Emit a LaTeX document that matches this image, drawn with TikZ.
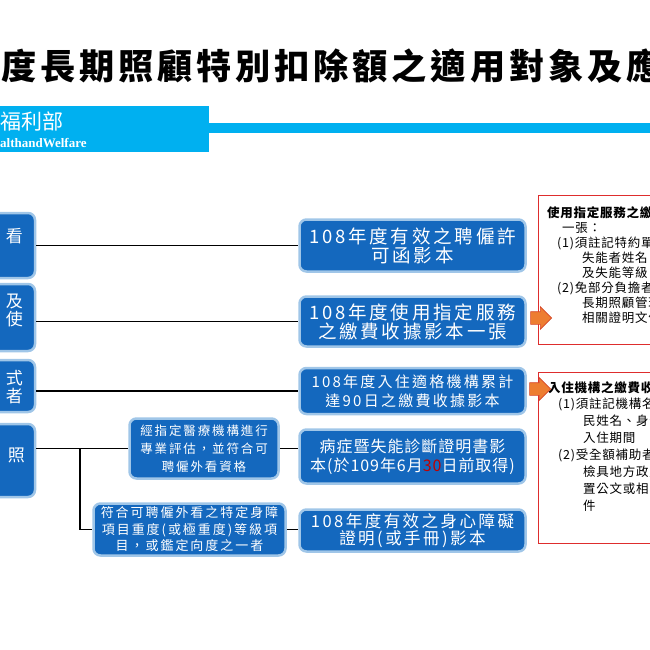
\documentclass[tikz,border=0pt]{standalone}
\usepackage{fontspec}
\setmainfont{Noto Sans CJK TC}
\newfontfamily\headfont[LetterSpace=11]{Noto Sans CJK TC}
\newfontfamily\widefont[LetterSpace=15]{Noto Sans CJK TC}
\newfontfamily\slimfont[LetterSpace=6]{Noto Sans CJK TC}
\newfontfamily\engfont{Liberation Serif}
\usetikzlibrary{shapes.arrows}

\definecolor{boxblue}{RGB}{20,104,190}
\definecolor{rimblue}{RGB}{160,198,232}
\definecolor{bannerblue}{RGB}{0,176,240}
\definecolor{pushorange}{RGB}{237,125,49}
\definecolor{pushedge}{RGB}{214,70,40}
\definecolor{notered}{RGB}{222,45,45}
\definecolor{datered}{RGB}{192,0,0}

\tikzset{
  docbox/.style={rectangle, rounded corners=7pt, fill=boxblue, draw=rimblue, line width=2.5pt, text=white, align=center, inner sep=2pt},
  sidetext/.style={text=white, align=right, inner sep=0pt, font=\widefont\fontsize{17}{18}\selectfont},
  notebox/.style={rectangle, draw=notered, line width=0.8pt, fill=white, inner sep=0pt},
  notetext/.style={anchor=north west, align=left, inner sep=0pt},
  pusharrow/.style={single arrow, fill=pushorange, draw=pushedge, line width=0.6pt, minimum height=21pt, minimum width=22pt, single arrow head extend=5pt, inner sep=6pt},
  link/.style={line width=1.3pt}
}

\begin{document}
\begin{tikzpicture}[x=1pt, y=-1pt]
\useasboundingbox (0,0) rectangle (650,650);

% heading and banner
\node[anchor=west, inner sep=0pt, font=\headfont\bfseries\fontsize{35.2}{35.2}\selectfont] (title) at (1,66) {度長期照顧特別扣除額之適用對象及應};
\fill[bannerblue] (0,106) rectangle (209,152);
\fill[bannerblue] (209,123) rectangle (650,133);
\node[anchor=west, inner sep=0pt, text=white, font=\fontsize{21}{21}\selectfont] (dept) at (0,121) {福利部};
\node[anchor=west, inner sep=0pt, text=white, font=\engfont\bfseries\fontsize{13}{13}\selectfont] (deptEn) at (0,143) {althandWelfare};

% left column
\node[docbox, minimum width=90pt, minimum height=65pt] (L1) at (-10,245.5) {};
\node[docbox, minimum width=90pt, minimum height=67pt] (L2) at (-10,317.5) {};
\node[docbox, minimum width=90pt, minimum height=52pt] (L3) at (-10,386) {};
\node[docbox, minimum width=90pt, minimum height=73pt] (L4) at (-10,460.5) {};
\node[sidetext, anchor=east] (L1txt) at (23,236) {看};
\node[sidetext, anchor=east] (L2txt) at (23,310) {及\\使};
\node[sidetext, anchor=east] (L3txt) at (23,387.5) {式\\者};
\node[sidetext, anchor=east] (L4txt) at (25,455) {照};

% middle column
\node[docbox, minimum width=226pt, minimum height=52pt, font=\widefont\fontsize{18.5}{19}\selectfont] (M1) at (412.5,245.5) {108年度有效之聘僱許\\可函影本};
\node[docbox, minimum width=226pt, minimum height=50pt, font=\widefont\fontsize{18.5}{19}\selectfont] (M2) at (412.5,321.5) {108年度使用指定服務\\之繳費收據影本一張};
\node[docbox, minimum width=226pt, minimum height=46pt, font=\widefont\fontsize{15}{19}\selectfont] (M3) at (412.5,391) {108年度入住適格機構累計\\達90日之繳費收據影本};
\node[docbox, minimum width=226pt, minimum height=54pt, font=\slimfont\fontsize{16}{19}\selectfont] (M4) at (412.5,456.5) {病症暨失能診斷證明書影\\本(於109年6月{\color{datered}30}日前取得)};
\node[docbox, minimum width=226pt, minimum height=42pt, font=\widefont\fontsize{16.5}{17}\selectfont] (M5) at (412.5,530.5) {108年度有效之身心障礙\\證明(或手冊)影本};

% conditions
\node[docbox, minimum width=149pt, minimum height=60pt, font=\widefont\fontsize{12.5}{18}\selectfont] (E1) at (204,448.5) {經指定醫療機構進行\\專業評估，並符合可\\聘僱外看資格};
\node[docbox, minimum width=192pt, minimum height=52pt, font=\widefont\fontsize{13}{16.5}\selectfont] (E2) at (189.5,529.5) {符合可聘僱外看之特定身障\\項目重度(或極重度)等級項\\目，或鑑定向度之一者};

% connectors
\draw[link] (L1.east) -- (M1.west);
\draw[link] (M2.west -| L2.east) -- (M2.west);
\draw[link] (M3.west -| L3.east) -- (M3.west);
\draw[link] (E1.west -| L4.east) -- (E1.west);
\coordinate (fork) at (80,448.5);
\draw[link] (fork) |- (E2.west);
\draw[link] (E1.east) -- (E1.east -| M4.west);
\draw[link] (E2.east) -- (E2.east -| M5.west);

% notes on the right
\node[notebox, minimum width=125pt, minimum height=149pt, anchor=north west] (R1) at (538,195) {};
\node[notebox, minimum width=125pt, minimum height=171pt, anchor=north west] (R2) at (538,372) {};
\node[notetext, font=\slimfont\fontsize{12.5}{15}\selectfont] (R1txt) at (547,206) {\textbf{使用指定服務之繳費收據影本}\\\hspace*{1.2em}一張：\\\hspace*{0.8em}(1)須註記特約單位名稱、\\\hspace*{2.8em}失能者姓名、服務期間\\\hspace*{2.8em}及失能等級\\\hspace*{0.8em}(2)免部分負擔者，應檢附\\\hspace*{2.8em}長期照顧管理中心核定\\\hspace*{2.8em}相關證明文件};
\node[notetext, font=\slimfont\fontsize{12.5}{16.9}\selectfont] (R2txt) at (548,381) {\textbf{入住機構之繳費收據影本}\\\hspace*{0.8em}(1)須註記機構名稱、住\\\hspace*{2.8em}民姓名、身分證字號\\\hspace*{2.8em}入住期間\\\hspace*{0.8em}(2)受全額補助者，應\\\hspace*{2.8em}檢具地方政府安\\\hspace*{2.8em}置公文或相關證明文\\\hspace*{2.8em}件};

% arrows into the notes
\node[pusharrow] (P1) at (538,318) {};
\node[pusharrow] (P2) at (537,389) {};

\end{tikzpicture}
\end{document}
